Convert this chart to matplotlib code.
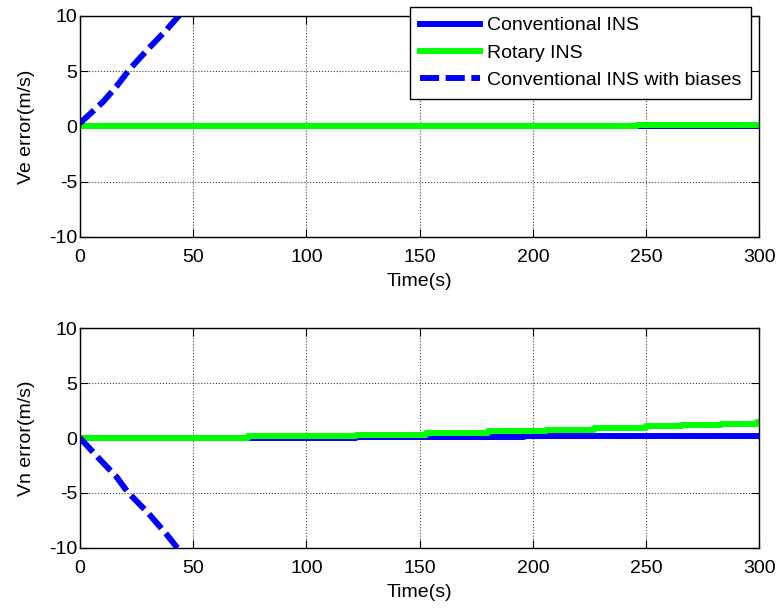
import numpy as np
import matplotlib
matplotlib.use('Agg')
from matplotlib import pyplot as plt

plt.rcParams['font.family'] = ['Liberation Sans', 'DejaVu Sans']
plt.rcParams['font.size'] = 14
plt.rcParams['axes.unicode_minus'] = False

# top panel (Ve)
ve_t_conv = [0, 300]
ve_conv = [0, 0]
ve_t_rot = [0, 246, 246, 300]
ve_rot = [0, 0, 0.15, 0.15]
ve_t_bias = [0, 10, 16, 22, 30, 38, 44]
ve_bias = [0.3, 2.2, 3.6, 5.2, 7.0, 8.7, 10.1]

# bottom panel (Vn)
vn_t_conv = [0, 122, 122, 153, 153, 196, 196, 300]
vn_conv = [0, 0, 0.05, 0.05, 0.1, 0.1, 0.18, 0.18]
vn_t_rot = [0, 74, 122, 153, 180, 206, 227, 250, 266, 283, 299, 300]
vn_rot = [0, 0.15, 0.3, 0.45, 0.6, 0.75, 0.9, 1.05, 1.15, 1.3, 1.45, 1.45]
vn_t_bias = [0, 9, 16, 21, 30, 38, 43]
vn_bias = [0, -2.0, -3.5, -4.9, -6.8, -8.7, -10.0]

xticks = [0, 50, 100, 150, 200, 250, 300]
yticks = [-10, -5, 0, 5, 10]

blue = '#0000ff'
green = '#00ff00'
lw = 4.3

fig = plt.figure(figsize=(7.79, 6.08), dpi=100)
ax1 = fig.add_axes([0.1027, 0.6102, 0.872, 0.3635])
ax2 = fig.add_axes([0.1027, 0.0987, 0.872, 0.3618])


def setup(ax, ylab):
    ax.set_xlim(0, 300)
    ax.set_ylim(-10, 10)
    ax.set_xticks(xticks)
    ax.set_yticks(yticks)
    ax.grid(True, color='#444444', linestyle=':', linewidth=0.8)
    ax.tick_params(direction='in', top=True, right=True, length=6)
    ax.tick_params(axis='x', pad=9)
    ax.tick_params(axis='y', pad=2)
    ax.set_xlabel('Time(s)', labelpad=5)
    ax.set_ylabel(ylab, labelpad=10)
    for s in ax.spines.values():
        s.set_linewidth(1.0)


setup(ax1, 'Ve error(m/s)')
ax1.plot(ve_t_conv, ve_conv, color=blue, lw=lw, label='Conventional INS')
ax1.plot(ve_t_rot, ve_rot, color=green, lw=lw, label='Rotary INS', drawstyle='steps-post')
ax1.plot(ve_t_bias, ve_bias, color=blue, lw=lw, dashes=(3.2, 1.1),
         label='Conventional INS with biases')

setup(ax2, 'Vn error(m/s)')
ax2.plot(vn_t_conv, vn_conv, color=blue, lw=lw)
ax2.plot(vn_t_rot, vn_rot, color=green, lw=lw, drawstyle='steps-post')
ax2.plot(vn_t_bias, vn_bias, color=blue, lw=lw, dashes=(3.2, 1.1))

leg = ax1.legend(loc='upper right', bbox_to_anchor=(751 / 779, 1 - 7 / 608),
                 bbox_transform=fig.transFigure, frameon=True, fancybox=False,
                 edgecolor='black', framealpha=1, handlelength=3.1,
                 borderpad=0.5, labelspacing=0.5, handletextpad=0.36,
                 borderaxespad=0)
leg.get_frame().set_linewidth(1.0)

fig.savefig('out.png', dpi=100)
